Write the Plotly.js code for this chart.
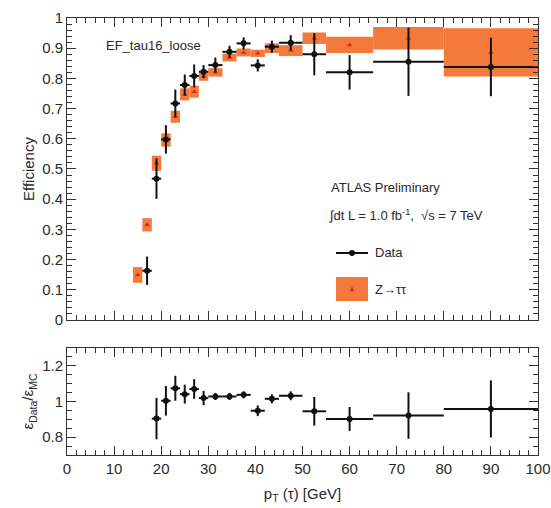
<!DOCTYPE html>
<html>
<head>
<meta charset="utf-8">
<script src="https://cdn.plot.ly/plotly-3.0.1.min.js"></script>
<style>html,body{margin:0;padding:0;background:#fff;}#chart{width:551px;height:508px;}</style>
</head>
<body>
<div id="chart"></div>
<script>
// ---- Data ----
const ptData = [17, 19, 21, 23, 25, 27, 29, 31.5, 34.5, 37.5, 40.5, 43.5, 47.5, 52.5, 60, 72.5, 90];
const ptDataHalfWidth = [1, 1, 1, 1, 1, 1, 1, 1.5, 1.5, 1.5, 1.5, 1.5, 2.5, 2.5, 5, 7.5, 10];
const effData = [0.163, 0.468, 0.598, 0.717, 0.778, 0.808, 0.822, 0.844, 0.888, 0.916, 0.843, 0.905, 0.918, 0.880, 0.820, 0.855, 0.838];
const effDataErr = [0.047, 0.067, 0.047, 0.046, 0.035, 0.038, 0.022, 0.025, 0.02, 0.02, 0.02, 0.02, 0.025, 0.07, 0.057, 0.113, 0.097];

const ptMC = [15, 17, 19, 21, 23, 25, 27, 29, 31.5, 34.5, 37.5, 40.5, 43.5, 47.5, 52.5, 60, 72.5, 90];
const ptMCHalfWidth = [1, 1, 1, 1, 1, 1, 1, 1, 1.5, 1.5, 1.5, 1.5, 1.5, 2.5, 2.5, 5, 7.5, 10];
const effMC = [0.149, 0.315, 0.519, 0.596, 0.673, 0.747, 0.756, 0.806, 0.820, 0.869, 0.886, 0.883, 0.900, 0.892, 0.933, 0.911, 0.933, 0.886];
const effMCErr = [0.026, 0.022, 0.025, 0.022, 0.02, 0.02, 0.02, 0.014, 0.014, 0.013, 0.013, 0.012, 0.016, 0.018, 0.019, 0.027, 0.037, 0.08];

const ptRatio = [19, 21, 23, 25, 27, 29, 31.5, 34.5, 37.5, 40.5, 43.5, 47.5, 52.5, 60, 72.5, 90];
const ptRatioHalfWidth = [1, 1, 1, 1, 1, 1, 1.5, 1.5, 1.5, 1.5, 1.5, 2.5, 2.5, 5, 7.5, 10];
const ratio = [0.904, 1.004, 1.074, 1.041, 1.07, 1.019, 1.028, 1.028, 1.037, 0.948, 1.015, 1.032, 0.945, 0.902, 0.921, 0.958];
const ratioErr = [0.116, 0.083, 0.07, 0.053, 0.055, 0.04, 0.02, 0.02, 0.02, 0.03, 0.025, 0.025, 0.08, 0.067, 0.13, 0.16];

// ---- Styles ----
const ORANGE = '#f47a3c';
const TRI = '#dd2a1c';
const FONT = 'Liberation Sans, Arial, Helvetica, sans-serif';
const TXT = '#2a2a2a';

const traces = [
  { type: 'bar', x: ptMC, base: effMC.map((v, i) => v - effMCErr[i]), y: effMCErr.map(e => 2 * e),
    width: ptMCHalfWidth.map(h => 2 * h), marker: { color: ORANGE, line: { width: 0 } },
    xaxis: 'x', yaxis: 'y', hoverinfo: 'skip', showlegend: false },
  { type: 'scatter', mode: 'markers', x: ptMC, y: effMC,
    marker: { symbol: 'triangle-up', size: 5, color: TRI },
    xaxis: 'x', yaxis: 'y', showlegend: false },
  { type: 'scatter', mode: 'markers', x: ptData, y: effData,
    error_x: { type: 'data', array: ptDataHalfWidth, color: '#111', thickness: 2, width: 0 },
    error_y: { type: 'data', array: effDataErr, color: '#111', thickness: 2, width: 0 },
    marker: { symbol: 'circle', size: 6, color: '#111' },
    xaxis: 'x', yaxis: 'y', showlegend: false },
  { type: 'scatter', mode: 'markers', x: ptRatio, y: ratio,
    error_x: { type: 'data', array: ptRatioHalfWidth, color: '#111', thickness: 2, width: 0 },
    error_y: { type: 'data', array: ratioErr, color: '#111', thickness: 2, width: 0 },
    marker: { symbol: 'circle', size: 6, color: '#111' },
    xaxis: 'x2', yaxis: 'y2', showlegend: false }
];

const axCommon = {
  ticks: 'inside', ticklen: 9, tickwidth: 1, tickcolor: '#333',
  showline: true, linecolor: '#333', linewidth: 1, mirror: 'allticks',
  showgrid: false, zeroline: false,
  tickfont: { family: FONT, size: 15, color: TXT }
};

const layout = {
  width: 551, height: 508,
  margin: { l: 67, r: 13, t: 18, b: 53 },
  paper_bgcolor: '#fff', plot_bgcolor: '#fff',
  font: { family: FONT, color: TXT },
  barmode: 'overlay',
  xaxis: Object.assign({}, axCommon, { domain: [0, 1], range: [0, 100], dtick: 10, anchor: 'y', showticklabels: false,
    minor: { dtick: 2, ticklen: 5, ticks: 'inside', tickcolor: '#333' } }),
  yaxis: Object.assign({}, axCommon, { domain: [0.309, 1], range: [0, 1], dtick: 0.1, anchor: 'x',
    minor: { dtick: 0.02, ticklen: 5, ticks: 'inside', tickcolor: '#333' },
    title: { text: 'Efficiency', font: { family: FONT, size: 15, color: TXT }, standoff: 3 } }),
  xaxis2: Object.assign({}, axCommon, { domain: [0, 1], range: [0, 100], dtick: 10, anchor: 'y2', matches: 'x',
    minor: { dtick: 2, ticklen: 5, ticks: 'inside', tickcolor: '#333' },
    title: { text: 'p<sub>T</sub> (τ) [GeV]', font: { family: FONT, size: 15, color: TXT }, standoff: 12 } }),
  yaxis2: Object.assign({}, axCommon, { domain: [0, 0.245], range: [0.7, 1.3], dtick: 0.2, tick0: 0.8, anchor: 'x2',
    minor: { dtick: 0.05, ticklen: 5, ticks: 'inside', tickcolor: '#333' },
    title: { text: 'ε<sub>Data</sub>/ε<sub>MC</sub>', font: { family: FONT, size: 15, color: TXT }, standoff: 4 } }),
  shapes: [
    // legend symbols (decoration)
    { type: 'line', xref: 'paper', yref: 'paper', x0: (336 - 67) / 471, x1: (368 - 67) / 471,
      y0: (455 - 253) / 437, y1: (455 - 253) / 437, line: { color: '#111', width: 2 } },
    { type: 'circle', xref: 'paper', yref: 'paper', x0: (349 - 67) / 471, x1: (355 - 67) / 471,
      y0: (455 - 256) / 437, y1: (455 - 250) / 437, fillcolor: '#111', line: { width: 0 } },
    { type: 'rect', xref: 'paper', yref: 'paper', x0: (336 - 67) / 471, x1: (368 - 67) / 471,
      y0: (455 - 301) / 437, y1: (455 - 277) / 437, fillcolor: ORANGE, line: { width: 0 } },
    { type: 'path', xref: 'paper', yref: 'paper',
      path: 'M ' + ((349.5 - 67) / 471) + ' ' + ((455 - 291.5) / 437) + ' L ' + ((354.5 - 67) / 471) + ' ' + ((455 - 291.5) / 437) +
            ' L ' + ((352 - 67) / 471) + ' ' + ((455 - 286.5) / 437) + ' Z',
      fillcolor: TRI, line: { width: 0 } }
  ],
  annotations: [
    { text: 'EF_tau16_loose', xref: 'paper', yref: 'paper', x: (104 - 67) / 471, y: (455 - 45) / 437,
      xanchor: 'left', yanchor: 'middle', showarrow: false, font: { family: FONT, size: 13, color: TXT } },
    { text: 'ATLAS Preliminary', xref: 'paper', yref: 'paper', x: (329 - 67) / 471, y: (455 - 187) / 437,
      xanchor: 'left', yanchor: 'middle', showarrow: false, font: { family: FONT, size: 13, color: TXT } },
    { text: '∫dt L = 1.0 fb<sup>-1</sup>,  √s = 7 TeV', xref: 'paper', yref: 'paper', x: (327 - 67) / 471, y: (455 - 215) / 437,
      xanchor: 'left', yanchor: 'middle', showarrow: false, font: { family: FONT, size: 13, color: TXT } },
    { text: 'Data', xref: 'paper', yref: 'paper', x: (373 - 67) / 471, y: (455 - 253) / 437,
      xanchor: 'left', yanchor: 'middle', showarrow: false, font: { family: FONT, size: 13, color: TXT } },
    { text: 'Z→ττ', xref: 'paper', yref: 'paper', x: (373 - 67) / 471, y: (455 - 289) / 437,
      xanchor: 'left', yanchor: 'middle', showarrow: false, font: { family: FONT, size: 13, color: TXT } }
  ]
};

Plotly.newPlot('chart', traces, layout, { displayModeBar: false, staticPlot: true });
</script>
</body>
</html>
